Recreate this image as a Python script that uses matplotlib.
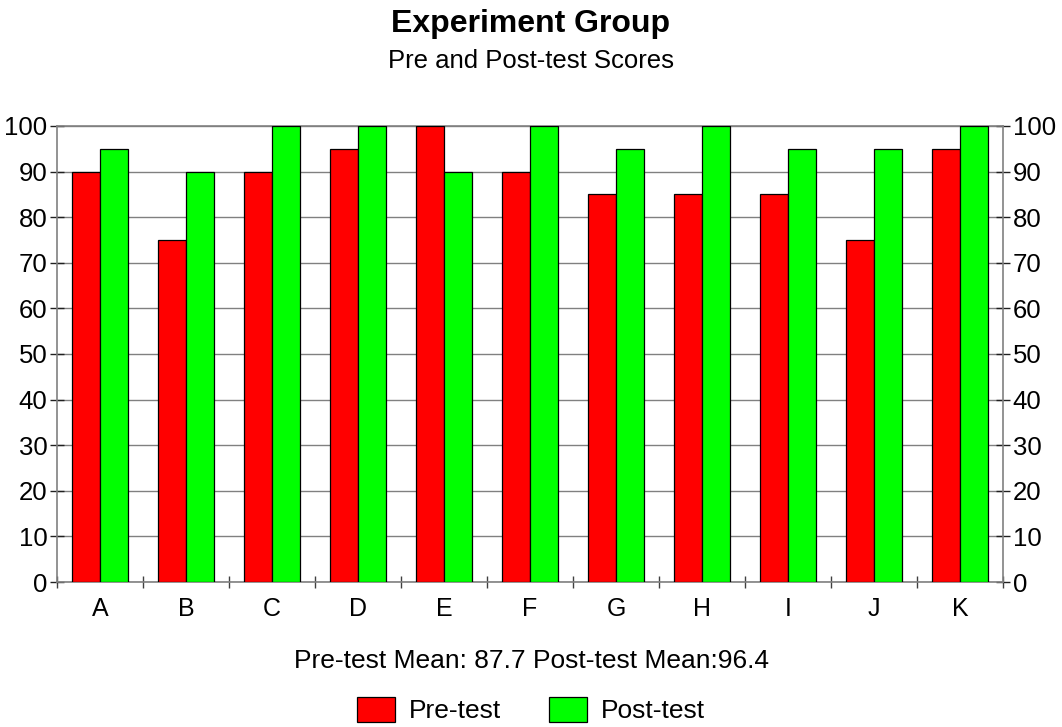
import matplotlib
matplotlib.use("Agg")
import matplotlib.pyplot as plt
import numpy as np
from matplotlib.patches import Patch

categories = ["A", "B", "C", "D", "E", "F", "G", "H", "I", "J", "K"]
pre_test = [90, 75, 90, 95, 100, 90, 85, 85, 85, 75, 95]
post_test = [95, 90, 100, 100, 90, 100, 95, 100, 95, 95, 100]
yticks = list(range(0, 101, 10))

plt.rcParams['font.family'] = ['Liberation Sans', 'DejaVu Sans']

W, H = 1062, 727
fig = plt.figure(figsize=(W / 100, H / 100), dpi=100)
ax = fig.add_axes([57 / W, (H - 582) / H, 946 / W, (582 - 126) / H])

x = np.arange(len(categories))
bw = 0.32
ax.bar(x - bw / 2, pre_test, bw, color="#ff0000", edgecolor="black", linewidth=0.9, zorder=3, label="Pre-test")
ax.bar(x + bw / 2, post_test, bw, color="#00ff00", edgecolor="black", linewidth=0.9, zorder=3, label="Post-test")

ax.set_xlim(-0.5, len(categories) - 0.5)
ax.set_ylim(0, 100)
ax.set_yticks(yticks)
ax.yaxis.grid(True, color="#808080", linewidth=1, zorder=0)
for s in ax.spines.values():
    s.set_color("#808080")
    s.set_linewidth(1.2)

ax.set_xticks(x)
ax.set_xticklabels(categories)
ax.set_xticks(np.arange(-0.5, len(categories)), minor=True)
ax.tick_params(axis="x", which="major", length=0, labelsize=18, pad=11)
ax.tick_params(axis="x", which="minor", direction="inout", length=9, color="#404040", width=1)
ax.tick_params(axis="y", which="major", direction="inout", length=10, color="#202020", width=1,
               labelsize=18.5, left=True, right=True, labelleft=True, labelright=True, pad=2)

fig.text(0.5, 1 - 32 / H, "Experiment Group", ha="center", va="baseline", fontsize=23, fontweight="bold")
fig.text(0.5, 1 - 68 / H, "Pre and Post-test Scores", ha="center", va="baseline", fontsize=18.5)
fig.text(0.5, 1 - 668 / H, "Pre-test Mean: 87.7 Post-test Mean:96.4", ha="center", va="baseline", fontsize=19)

handles = [Patch(facecolor="#ff0000", edgecolor="black", linewidth=0.9, label="Pre-test"),
           Patch(facecolor="#00ff00", edgecolor="black", linewidth=0.9, label="Post-test")]
fig.legend(handles=handles, loc="center", bbox_to_anchor=(0.5, 1 - 710 / H), ncol=2, frameon=False,
           fontsize=19, handlelength=1.44, handleheight=1.1, columnspacing=1.85, handletextpad=0.5,
           borderpad=0, borderaxespad=0)

fig.savefig("out.png", dpi=100)
